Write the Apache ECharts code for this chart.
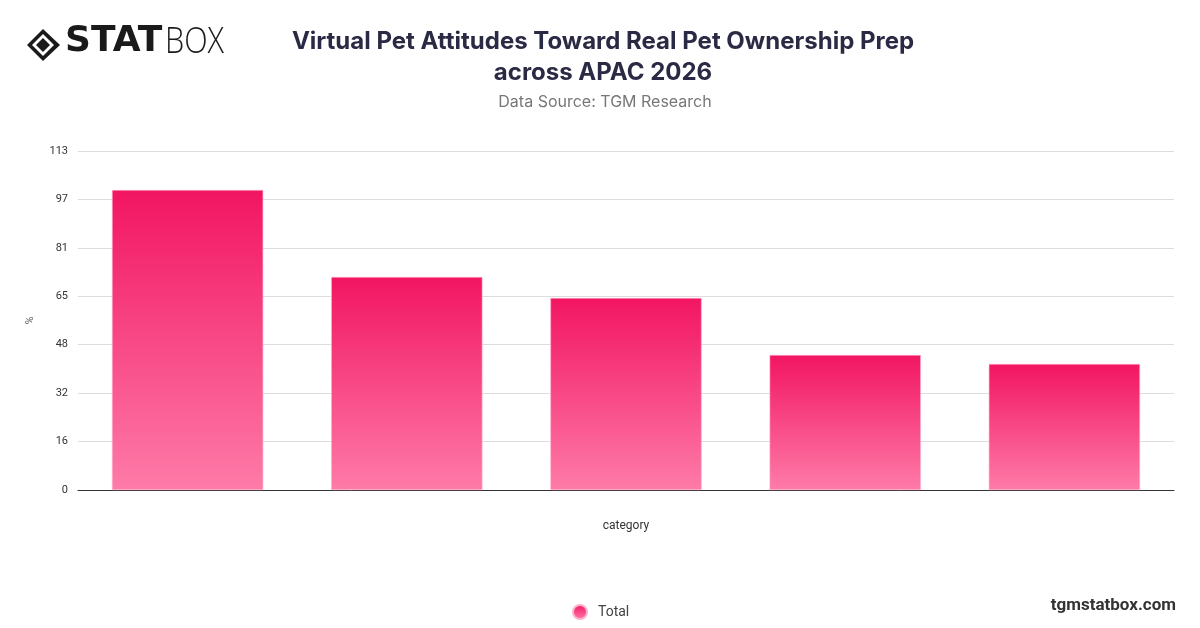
<!DOCTYPE html>
<html>
<head>
<meta charset="utf-8">
<script src="https://cdn.jsdelivr.net/npm/echarts@6/dist/echarts.min.js"></script>
<style>
html,body{margin:0;padding:0;background:#fff;}
#main{width:1200px;height:628px;}
</style>
</head>
<body>
<div id="main"></div>
<script>
const categories = ['A', 'B', 'C', 'D', 'E'];
const seriesName = 'Total';
const totalValues = [100, 71, 64, 45, 42];
const yMax = 113;
const ySteps = 7;

const chart = echarts.init(document.getElementById('main'));
const barGradient = new echarts.graphic.LinearGradient(0, 0, 0, 1, [
  { offset: 0, color: '#F21562' },
  { offset: 1, color: '#FE7BA8' }
]);
const option = {
  animation: false,
  backgroundColor: '#ffffff',
  title: [
    {
      text: 'Virtual Pet Attitudes Toward Real Pet Ownership Prep\nacross APAC 2026',
      left: 598, top: 21, textAlign: 'center',
      textStyle: { fontFamily: 'Inter', fontSize: 24, fontWeight: 'bold', color: '#2B2A45', lineHeight: 31 }
    },
    {
      text: 'Data Source: TGM Research',
      left: 600, top: 89, textAlign: 'center',
      textStyle: { fontFamily: 'Inter', fontSize: 16, fontWeight: 'normal', color: '#777777' }
    }
  ],
  legend: {
    data: [{ name: seriesName, icon: 'circle' }],
    left: 567, top: 599,
    itemWidth: 14, itemHeight: 14, itemGap: 8,
    textStyle: { fontFamily: 'Roboto', fontSize: 14, color: '#444', padding: [0, 0, 0, 6] }
  },
  grid: { left: 78, right: 26, top: 151, bottom: 138 },
  xAxis: {
    type: 'category',
    data: categories,
    name: 'category',
    nameLocation: 'middle',
    nameGap: 30,
    nameTextStyle: { fontFamily: 'Roboto', fontSize: 12, color: '#333' },
    axisLine: { show: true, lineStyle: { color: '#333', width: 1 } },
    axisTick: { show: false },
    axisLabel: { show: false }
  },
  yAxis: {
    type: 'value',
    min: 0, max: yMax, interval: yMax / ySteps,
    name: '%',
    nameLocation: 'middle',
    nameGap: 42,
    nameRotate: 90,
    nameTextStyle: { fontFamily: 'Roboto', fontSize: 11, color: '#666' },
    axisLine: { show: false },
    axisTick: { show: false },
    axisLabel: {
      fontFamily: 'Roboto', fontSize: 11, color: '#333', margin: 10,
      formatter: v => String(Math.round(v))
    },
    splitLine: { lineStyle: { color: '#dddddd', width: 1 } }
  },
  series: [{
    name: seriesName,
    type: 'bar',
    data: totalValues,
    barWidth: '69%',
    itemStyle: { color: barGradient, borderColor: '#FFB0CC', borderWidth: 0.6 }
  }],
  graphic: [
    {
      type: 'group', left: 27, top: 24,
      children: [
        { type: 'polygon', shape: { points: [[16,0],[33,16],[16,32],[0,16]] }, style: { fill: '#1a1a1a' } },
        { type: 'polygon', shape: { points: [[16,5],[27,16],[16,27],[5,16]] }, style: { fill: '#ffffff' } },
        { type: 'polygon', shape: { points: [[16,9],[23,16],[16,23],[9,16]] }, style: { fill: '#1a1a1a' } },
        { type: 'text', x: 38, y: -5, scaleX: 1.0, style: { text: 'STAT', font: '900 36px "DejaVu Sans"', fill: '#1a1a1a' } },
        { type: 'text', x: 138, y: -4, scaleX: 0.85, style: { text: 'BOX', font: '300 36px "Open Sans"', fill: '#1a1a1a' } }
      ]
    },
    {
      type: 'text', right: 24, top: 597,
      style: { text: 'tgmstatbox.com', font: 'bold 17px "Roboto"', fill: '#333333' }
    }
  ]
};
chart.setOption(option);
</script>
</body>
</html>
